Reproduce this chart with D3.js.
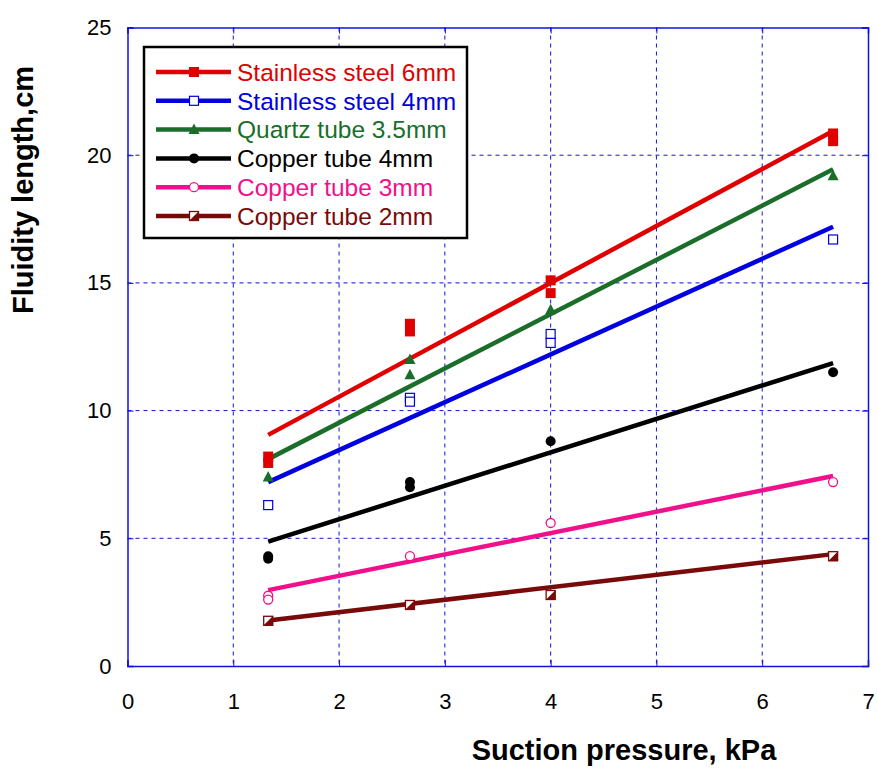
<!DOCTYPE html>
<html><head><meta charset="utf-8">
<script src="https://cdn.jsdelivr.net/npm/d3@7"></script>
<style>body{margin:0;background:#fff}</style>
</head><body>
<svg id="c" width="877" height="769"></svg>
<script>
const xTicks = [0,1,2,3,4,5,6,7];
const yTicks = [0,5,10,15,20,25];
const seriesNames = ["Stainless steel 6mm","Stainless steel 4mm","Quartz tube 3.5mm","Copper tube 4mm","Copper tube 3mm","Copper tube 2mm"];
const seriesColors = ["#e00000","#0000e0","#1a6e2a","#000000","#f0108c","#7a0a0a"];
const textColors = ["#e00000","#0000e0","#1a6e2a","#000000","#f0108c","#7a0a0a"];
const markers = ["squareFilled","squareOpen","triangle","circleFilled","circleOpen","squareHalf"];
// measured points [x, y]
const ss6 = [[1.33,8.2],[1.33,7.95],[2.67,13.4],[2.67,13.1],[4,15.1],[4,14.6],[6.67,20.85],[6.67,20.55]];
const ss4 = [[1.33,6.3],[2.67,10.5],[2.67,10.35],[4,13.0],[4,12.65],[6.67,16.7]];
const qz35 = [[1.33,7.4],[2.67,12.0],[2.67,11.4],[4,13.95],[6.67,19.2]];
const cu4 = [[1.33,4.3],[1.33,4.2],[2.67,7.2],[2.67,7.0],[4,8.8],[6.67,11.5]];
const cu3 = [[1.33,2.75],[1.33,2.6],[2.67,4.3],[4,5.6],[6.67,7.2]];
const cu2 = [[1.33,1.77],[2.67,2.39],[4,2.78],[6.67,4.3]];
// fitted trend lines: [x0, y0, x1, y1]
const fitSS6 = [1.33,9.05,6.67,20.95];
const fitSS4 = [1.33,7.2,6.67,17.2];
const fitQZ = [1.33,8.1,6.67,19.45];
const fitCU4 = [1.33,4.87,6.67,11.86];
const fitCU3 = [1.33,2.97,6.67,7.44];
const fitCU2 = [1.33,1.78,6.67,4.38];

const pointSets=[ss6,ss4,qz35,cu4,cu3,cu2];
const fits=[fitSS6,fitSS4,fitQZ,fitCU4,fitCU3,fitCU2];

const svg=d3.select("#c");
const L=127.5,R=868,T=27.5,B=666;
const x=d3.scaleLinear().domain([0,7]).range([L,R]);
const y=d3.scaleLinear().domain([0,25]).range([B,T]);
const grid="#1010e0";

// grid
svg.append("g").selectAll("line").data(xTicks.slice(1,-1)).join("line")
 .attr("x1",d=>x(d)).attr("x2",d=>x(d)).attr("y1",T).attr("y2",B)
 .attr("stroke",grid).attr("stroke-width",1).attr("stroke-dasharray","4,4");
svg.append("g").selectAll("line").data(yTicks.slice(1,-1)).join("line")
 .attr("y1",d=>y(d)).attr("y2",d=>y(d)).attr("x1",L).attr("x2",R)
 .attr("stroke",grid).attr("stroke-width",1).attr("stroke-dasharray","4,4");

// axes with inward ticks
const font="Liberation Sans, Arial, sans-serif";
const gx=svg.append("g").attr("transform",`translate(0,${B})`)
 .call(d3.axisBottom(x).tickValues(xTicks).tickSize(-6).tickPadding(27).tickFormat(d3.format("d")));
const gy=svg.append("g").attr("transform",`translate(${L},0)`)
 .call(d3.axisLeft(y).tickValues(yTicks).tickSize(-6).tickPadding(16).tickFormat(d3.format("d")));
const gx2=svg.append("g").attr("transform",`translate(0,${T})`)
 .call(d3.axisTop(x).tickValues(xTicks).tickSize(-6).tickFormat(""));
const gy2=svg.append("g").attr("transform",`translate(${R},0)`)
 .call(d3.axisRight(y).tickValues(yTicks).tickSize(-6).tickFormat(""));
[gx,gy,gx2,gy2].forEach(g=>{
  g.selectAll("path").attr("stroke",grid).attr("stroke-width",1.5);
  g.selectAll("line").attr("stroke",grid);
  g.selectAll("text").attr("font-family",font).attr("font-size",22).attr("fill","#000");
});

// trend lines
fits.forEach((f,i)=>{
  svg.append("line").attr("x1",x(f[0])).attr("y1",y(f[1])).attr("x2",x(f[2])).attr("y2",y(f[3]))
   .attr("stroke",seriesColors[i]).attr("stroke-width",4.5);
});

function drawMarker(g,type,cx,cy,color){
  const s=5;
  if(type==="squareFilled"){g.append("rect").attr("x",cx-s).attr("y",cy-s).attr("width",2*s).attr("height",2*s).attr("fill",color);}
  else if(type==="squareOpen"){g.append("rect").attr("x",cx-s+0.5).attr("y",cy-s+0.5).attr("width",2*s-1).attr("height",2*s-1).attr("fill","#fff").attr("stroke",color).attr("stroke-width",1.2);}
  else if(type==="triangle"){g.append("path").attr("d",`M${cx},${cy-6}L${cx+5.5},${cy+4.5}L${cx-5.5},${cy+4.5}Z`).attr("fill",color);}
  else if(type==="circleFilled"){g.append("circle").attr("cx",cx).attr("cy",cy).attr("r",5).attr("fill",color);}
  else if(type==="circleOpen"){g.append("circle").attr("cx",cx).attr("cy",cy).attr("r",4.5).attr("fill","#fff").attr("stroke",color).attr("stroke-width",1.3);}
  else if(type==="squareHalf"){
    g.append("rect").attr("x",cx-s+0.5).attr("y",cy-s+0.5).attr("width",2*s-1).attr("height",2*s-1).attr("fill","#fff").attr("stroke",color).attr("stroke-width",1.3);
    g.append("path").attr("d",`M${cx+s},${cy-s}L${cx+s},${cy+s}L${cx-s},${cy+s}Z`).attr("fill",color);
  }
}
pointSets.forEach((pts,i)=>{
  const g=svg.append("g");
  pts.forEach(p=>drawMarker(g,markers[i],x(p[0]),y(p[1]),seriesColors[i]));
});

// legend
const lg=svg.append("g");
lg.append("rect").attr("x",144).attr("y",47).attr("width",323).attr("height",191)
 .attr("fill","#fff").attr("stroke","#000").attr("stroke-width",2.5);
seriesNames.forEach((n,i)=>{
  const yy=72+i*28.8;
  lg.append("line").attr("x1",156).attr("x2",231).attr("y1",yy).attr("y2",yy).attr("stroke",seriesColors[i]).attr("stroke-width",4.5);
  drawMarker(lg,markers[i],194,yy,seriesColors[i]);
  lg.append("text").attr("x",237).attr("y",yy+8.7).attr("font-family",font).attr("font-size",24.5)
   .attr("fill",textColors[i]).text(n);
});

// axis titles
svg.append("text").attr("x",624).attr("y",760).attr("text-anchor","middle").attr("font-family",font)
 .attr("font-weight","bold").attr("font-size",29).text("Suction pressure, kPa");
svg.append("text").attr("transform","translate(33,190) rotate(-90)").attr("text-anchor","middle").attr("font-family",font)
 .attr("font-weight","bold").attr("font-size",29).text("Fluidity length,cm");
</script>
</body></html>
